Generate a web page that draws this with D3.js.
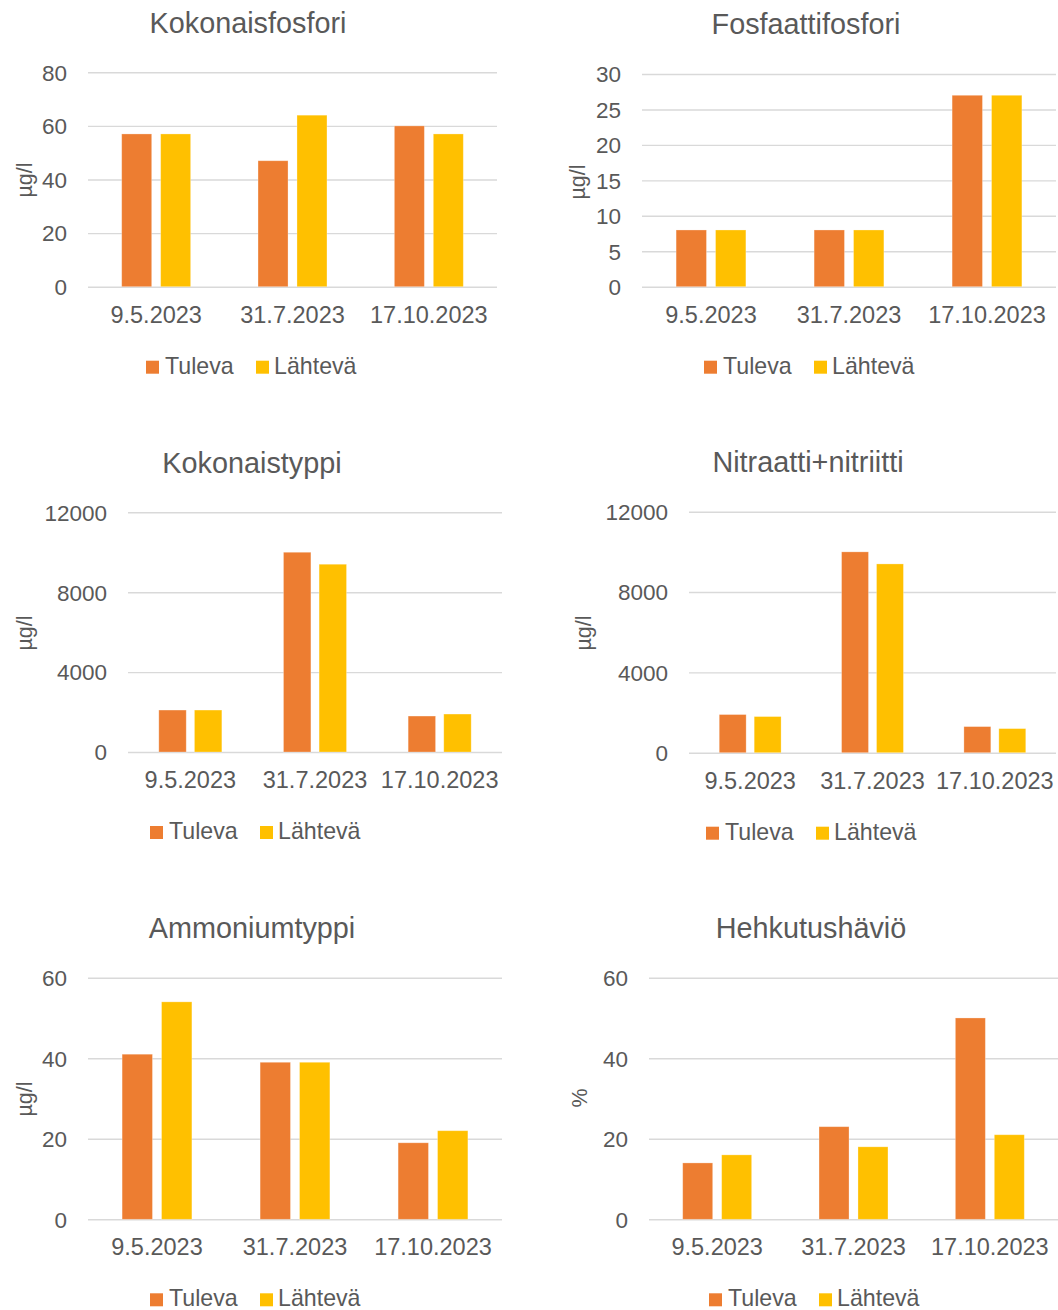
<!DOCTYPE html>
<html>
<head>
<meta charset="utf-8">
<script src="https://cdn.jsdelivr.net/npm/d3@7"></script>
<style>
  html, body { margin: 0; padding: 0; background: #fff; }
  svg { display: block; font-family: "Liberation Sans", Arial, sans-serif; }
</style>
</head>
<body>
<svg id="chart" width="1058" height="1310"></svg>
<script>
// Sampling dates and series
const dates = ["9.5.2023", "31.7.2023", "17.10.2023"];
const seriesNames = ["Tuleva", "Lähtevä"];

// Kokonaisfosfori (µg/l)
const kokonaisfosforiTuleva = [57, 47, 60];
const kokonaisfosforiLahteva = [57, 64, 57];
const kokonaisfosforiTicks = [0, 20, 40, 60, 80];

// Fosfaattifosfori (µg/l)
const fosfaattifosforiTuleva = [8, 8, 27];
const fosfaattifosforiLahteva = [8, 8, 27];
const fosfaattifosforiTicks = [0, 5, 10, 15, 20, 25, 30];

// Kokonaistyppi (µg/l)
const kokonaistyppiTuleva = [2100, 10000, 1800];
const kokonaistyppiLahteva = [2100, 9400, 1900];
const kokonaistyppiTicks = [0, 4000, 8000, 12000];

// Nitraatti+nitriitti (µg/l)
const nitraattiTuleva = [1900, 10000, 1300];
const nitraattiLahteva = [1800, 9400, 1200];
const nitraattiTicks = [0, 4000, 8000, 12000];

// Ammoniumtyppi (µg/l)
const ammoniumTuleva = [41, 39, 19];
const ammoniumLahteva = [54, 39, 22];
const ammoniumTicks = [0, 20, 40, 60];

// Hehkutushäviö (%)
const hehkutusTuleva = [14, 23, 50];
const hehkutusLahteva = [16, 18, 21];
const hehkutusTicks = [0, 20, 40, 60];

const colors = ["#ED7D31", "#FFC000"];
const textColor = "#595959";
const gridColor = "#D9D9D9";

// Panel definitions: plot area placement, title and axis unit
const panels = [
  { title: "Kokonaisfosfori", unit: "µg/l", tuleva: kokonaisfosforiTuleva, lahteva: kokonaisfosforiLahteva, ticks: kokonaisfosforiTicks,
    x0: 88, x1: 497, yTop: 72.3, yBot: 286.7, cx: 248, titleY: 33, unitX: 24, unitY: 180 },
  { title: "Fosfaattifosfori", unit: "µg/l", tuleva: fosfaattifosforiTuleva, lahteva: fosfaattifosforiLahteva, ticks: fosfaattifosforiTicks,
    x0: 642, x1: 1056, yTop: 74, yBot: 286.7, cx: 806, titleY: 34, unitX: 577, unitY: 182 },
  { title: "Kokonaistyppi", unit: "µg/l", tuleva: kokonaistyppiTuleva, lahteva: kokonaistyppiLahteva, ticks: kokonaistyppiTicks,
    x0: 128, x1: 502, yTop: 512.3, yBot: 752, cx: 252, titleY: 473, unitX: 24, unitY: 633 },
  { title: "Nitraatti+nitriitti", unit: "µg/l", tuleva: nitraattiTuleva, lahteva: nitraattiLahteva, ticks: nitraattiTicks,
    x0: 689, x1: 1056, yTop: 511.7, yBot: 752.7, cx: 808, titleY: 472, unitX: 583, unitY: 633 },
  { title: "Ammoniumtyppi", unit: "µg/l", tuleva: ammoniumTuleva, lahteva: ammoniumLahteva, ticks: ammoniumTicks,
    x0: 88, x1: 502, yTop: 977.7, yBot: 1219.3, cx: 252, titleY: 938, unitX: 24, unitY: 1099 },
  { title: "Hehkutushäviö", unit: "%", tuleva: hehkutusTuleva, lahteva: hehkutusLahteva, ticks: hehkutusTicks,
    x0: 649, x1: 1058, yTop: 977.7, yBot: 1219.3, cx: 811, titleY: 938, unitX: 579, unitY: 1098 }
];

const svg = d3.select("#chart");

panels.forEach(p => {
  const g = svg.append("g");
  const values = [p.tuleva, p.lahteva];

  const x = d3.scaleBand().domain(dates).range([p.x0, p.x1]).padding(0);
  const xs = d3.scaleBand().domain(d3.range(seriesNames.length))
    .range([0, x.bandwidth()]).paddingInner(0.23).paddingOuter(0.865);
  const y = d3.scaleLinear().domain([0, d3.max(p.ticks)]).range([p.yBot, p.yTop]);

  // Gridlines and value labels
  const yAxis = d3.axisLeft(y)
    .tickValues(p.ticks)
    .tickFormat(d3.format("d"))
    .tickSizeInner(-(p.x1 - p.x0))
    .tickSizeOuter(0)
    .tickPadding(21);
  const ya = g.append("g").attr("transform", `translate(${p.x0},0)`).call(yAxis);
  ya.select(".domain").remove();
  ya.selectAll(".tick line").attr("stroke", gridColor).attr("stroke-width", 1.4);
  ya.selectAll(".tick text")
    .attr("fill", textColor)
    .attr("font-size", 22.5)
    .attr("dy", "0.35em");

  // Bars
  dates.forEach((d, i) => {
    values.forEach((vals, s) => {
      g.append("rect")
        .attr("x", x(d) + xs(s))
        .attr("y", y(vals[i]))
        .attr("width", xs.bandwidth())
        .attr("height", y(0) - y(vals[i]))
        .attr("fill", colors[s])
        .attr("stroke", "#fff")
        .attr("stroke-opacity", 0.35)
        .attr("stroke-width", 0.8);
    });
  });

  // Category labels
  const xAxis = d3.axisBottom(x).tickSize(0).tickPadding(0);
  const xa = g.append("g").attr("transform", `translate(0,${p.yBot})`).call(xAxis);
  xa.select(".domain").remove();
  xa.selectAll(".tick text")
    .attr("fill", textColor)
    .attr("font-size", 23.5)
    .attr("dy", 0)
    .attr("y", 36);

  // Title
  g.append("text")
    .attr("x", p.cx).attr("y", p.titleY)
    .attr("text-anchor", "middle")
    .attr("fill", textColor)
    .attr("font-size", 28.8)
    .text(p.title);

  // Unit label
  g.append("text")
    .attr("transform", `translate(${p.unitX},${p.unitY}) rotate(-90)`)
    .attr("text-anchor", "middle")
    .attr("dy", "0.35em")
    .attr("fill", textColor)
    .attr("font-size", 21.5)
    .text(p.unit);

  // Legend
  const legY = p.yBot + 87;
  const legOffsets = [{ sq: -102, tx: -83 }, { sq: 8, tx: 26 }];
  seriesNames.forEach((name, s) => {
    g.append("rect")
      .attr("x", p.cx + legOffsets[s].sq)
      .attr("y", legY - 13)
      .attr("width", 13).attr("height", 13)
      .attr("fill", colors[s]);
    g.append("text")
      .attr("x", p.cx + legOffsets[s].tx)
      .attr("y", legY)
      .attr("fill", textColor)
      .attr("font-size", 23.2)
      .text(name);
  });
});
</script>
</body>
</html>
